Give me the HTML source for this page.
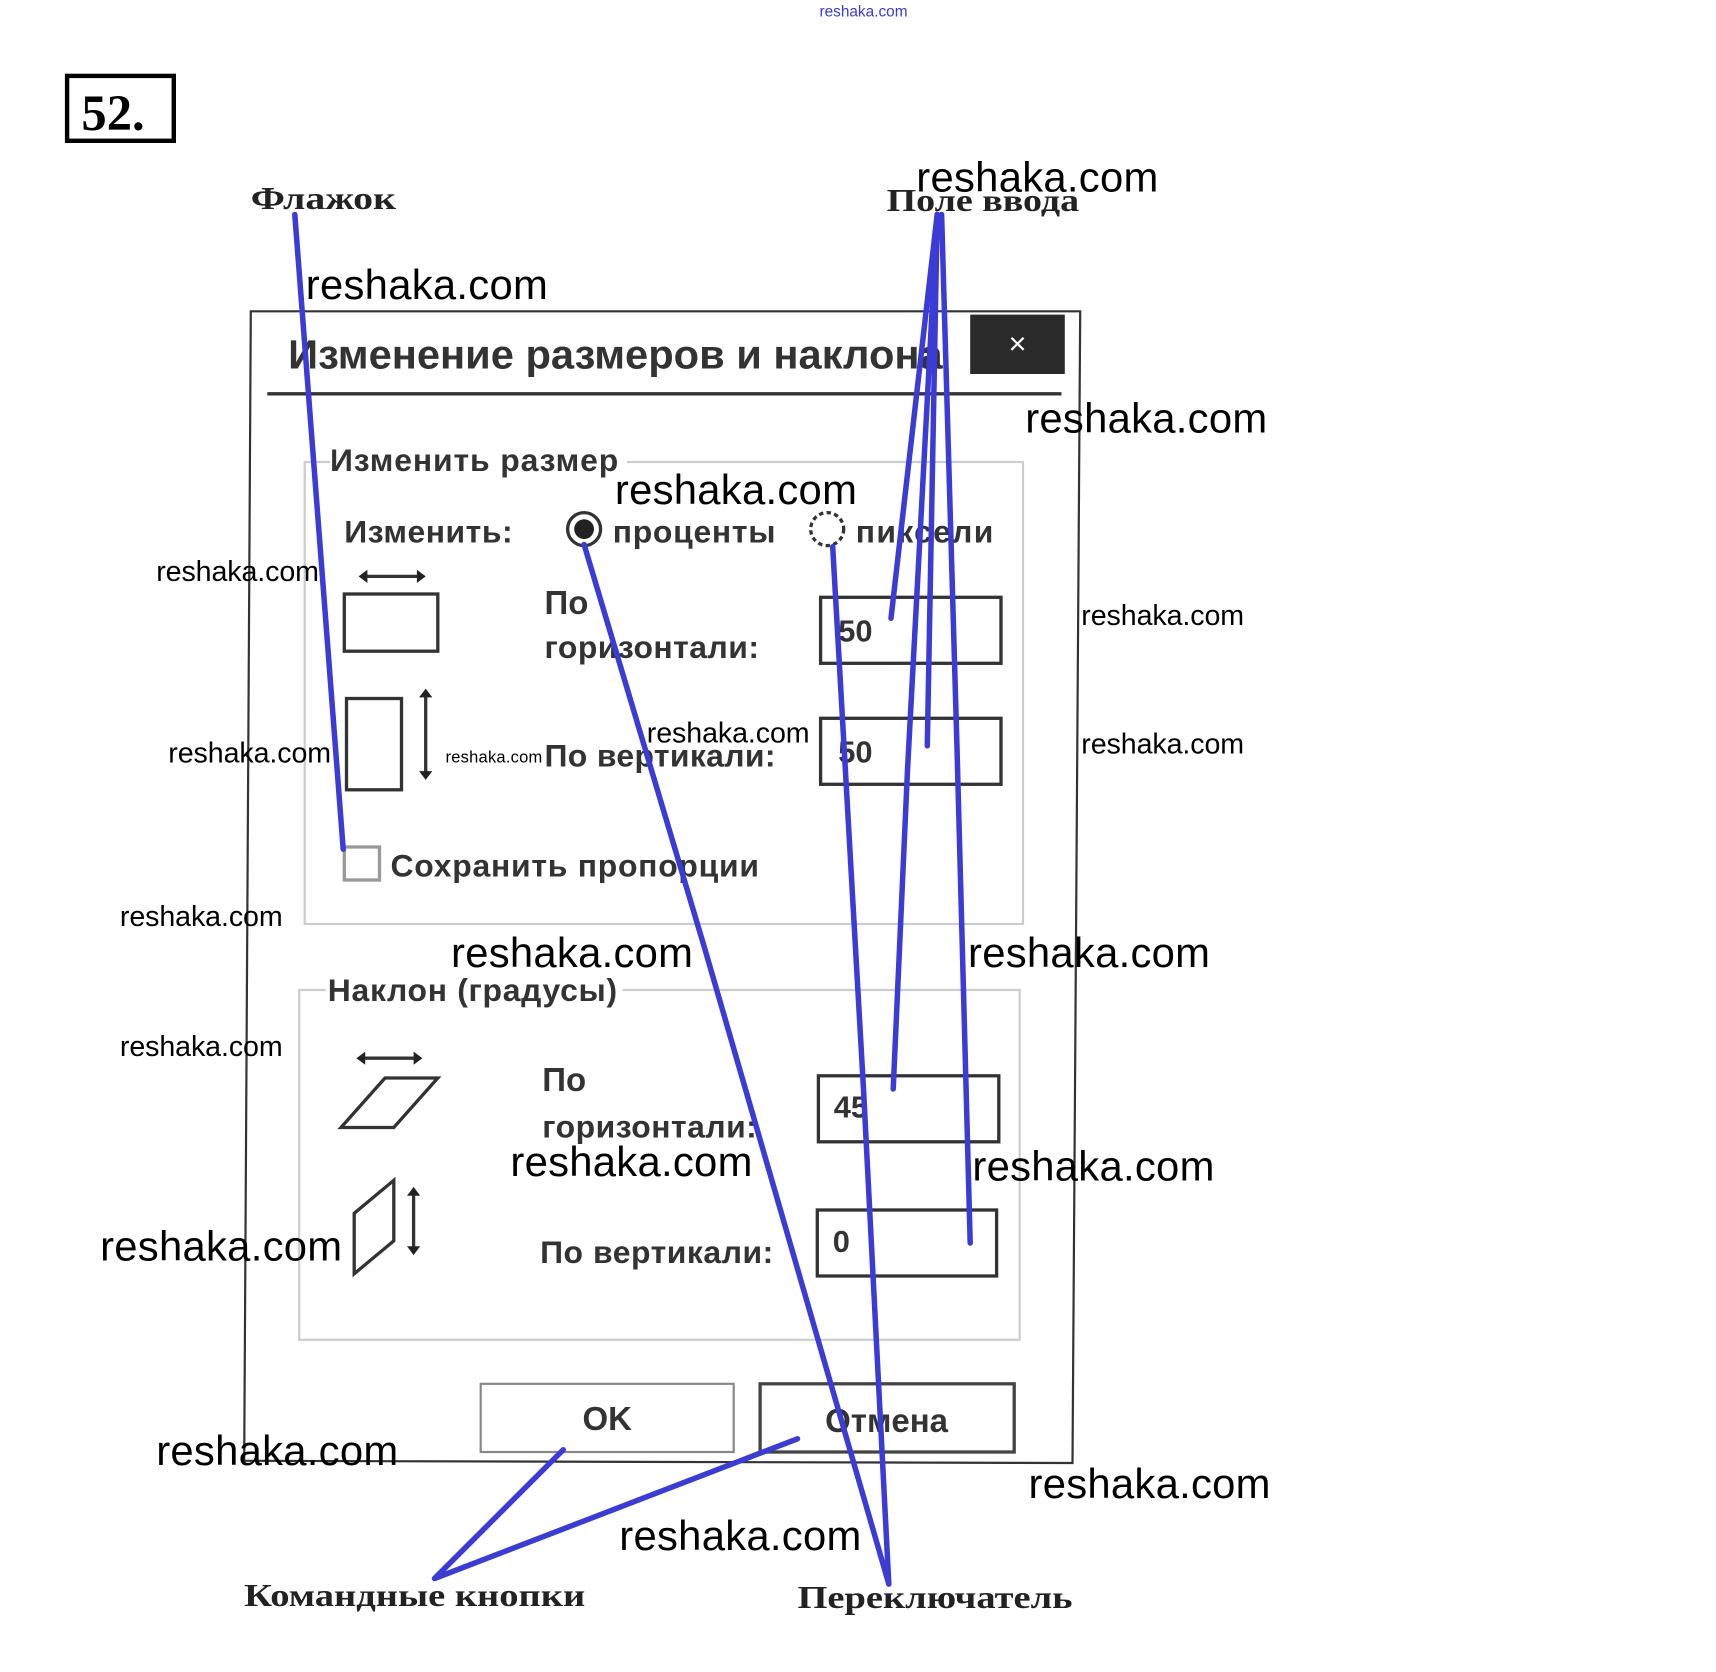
<!DOCTYPE html>
<html><head><meta charset="utf-8"><style>html,body{margin:0;padding:0;background:#fff}svg{display:block}</style></head>
<body>
<svg width="1716" height="1672" viewBox="0 0 1560 1520" xmlns="http://www.w3.org/2000/svg">
<rect width="1560" height="1520" fill="#fff"/>
<text x="785" y="15" font-family="Liberation Sans, sans-serif" font-size="14" fill="#3a3ad8" text-anchor="middle">reshaka.com</text>
<rect x="61" y="69" width="97" height="59" fill="none" stroke="#000" stroke-width="4"/>
<text x="74" y="118" font-family="Liberation Serif, serif" font-weight="bold" font-size="46">52.</text>
<g font-family="Liberation Serif, 'Noto Serif CJK SC', serif" font-size="29" fill="#222" font-weight="bold">
<text x="228" y="190" textLength="132" lengthAdjust="spacingAndGlyphs">Флажок</text>
<text x="806" y="192" textLength="175" lengthAdjust="spacingAndGlyphs">Поле ввода</text>
<text x="222" y="1460" textLength="310" lengthAdjust="spacingAndGlyphs">Командные кнопки</text>
<text x="725" y="1462" textLength="250" lengthAdjust="spacingAndGlyphs">Переключатель</text>
</g>
<g fill="none" stroke="#333">
<path d="M228,283 L982,283 L975,1330 L222,1328 Z" stroke-width="2"/>
<line x1="243" y1="358" x2="965" y2="358" stroke-width="3"/>
<rect x="277" y="420" width="653" height="420" stroke="#ccc" stroke-width="2"/>
<rect x="272" y="900" width="655" height="318" stroke="#ccc" stroke-width="2"/>
</g>
<rect x="882" y="286" width="86" height="54" fill="#2a2a2a"/>
<text x="925" y="322" font-family="Liberation Sans, sans-serif" font-size="28" fill="#fff" text-anchor="middle">×</text>
<g font-family="Liberation Sans, 'Noto Sans CJK SC', sans-serif" font-weight="bold" fill="#333">
<text x="262" y="335" font-size="37" textLength="595" lengthAdjust="spacingAndGlyphs">Изменение размеров и наклона</text>
<rect x="300" y="405" width="270" height="30" fill="#fff"/>
<text x="300" y="428" font-size="29" textLength="262">Изменить размер</text>
<text x="313" y="493" font-size="29" textLength="153">Изменить:</text>
<text x="557" y="493" font-size="29" textLength="148">проценты</text>
<text x="778" y="493" font-size="29" textLength="125">пиксели</text>
<text x="495" y="558" font-size="30">По</text>
<text x="495" y="598" font-size="29" textLength="195">горизонтали:</text>
<text x="495" y="697" font-size="29" textLength="210">По вертикали:</text>
<text x="355" y="797" font-size="29" textLength="335">Сохранить пропорции</text>
<rect x="296" y="888" width="270" height="30" fill="#fff"/>
<text x="298" y="910" font-size="29" textLength="263">Наклон (градусы)</text>
<text x="493" y="992" font-size="30">По</text>
<text x="493" y="1034" font-size="29" textLength="195">горизонтали:</text>
<text x="491" y="1148" font-size="29" textLength="212">По вертикали:</text>
<text x="762" y="583" font-size="28">50</text>
<text x="762" y="693" font-size="28">50</text>
<text x="758" y="1016" font-size="28">45</text>
<text x="757" y="1138" font-size="28">0</text>
<text x="552" y="1300" font-size="30" text-anchor="middle">OK</text>
<text x="806" y="1302" font-size="30" text-anchor="middle">Отмена</text>
</g>
<g fill="none" stroke="#333" stroke-width="3">
<circle cx="531" cy="481" r="15"/>
<circle cx="752" cy="481" r="15" stroke-dasharray="4 3"/>
<rect x="313" y="540" width="85" height="52"/>
<rect x="315" y="635" width="50" height="83"/>
<rect x="746" y="543" width="164" height="60"/>
<rect x="746" y="653" width="164" height="60"/>
<rect x="744" y="978" width="164" height="60"/>
<rect x="743" y="1100" width="163" height="60"/>
<rect x="313" y="770" width="32" height="30" stroke="#999"/>
<path d="M350,980 L398,980 L358,1025 L310,1025 Z"/>
<path d="M358,1073 L358,1128 L322,1158 L322,1103 Z"/>
<line x1="332" y1="524" x2="381" y2="524"/>
<line x1="387" y1="632" x2="387" y2="703"/>
<line x1="330" y1="962" x2="378" y2="962"/>
<line x1="376" y1="1085" x2="376" y2="1135"/>
<rect x="437" y="1258" width="230" height="62" stroke="#888" stroke-width="2"/>
<rect x="691" y="1258" width="231" height="62" stroke="#444" stroke-width="3"/>
</g>
<circle cx="531" cy="481" r="9" fill="#222"/>
<g fill="#222">
<path d="M326,524 l8,-6 v12z M387,524 l-8,-6 v12z M387,626 l-6,8 h12z M387,709 l-6,-8 h12z M324,962 l8,-6 v12z M384,962 l-8,-6 v12z M376,1079 l-6,8 h12z M376,1141 l-6,-8 h12z"/>
</g>
<g fill="none" stroke="#3b3bd6" stroke-width="5" stroke-linecap="round" stroke-linejoin="round">
<polyline points="268,195 312,772"/>
<polyline points="852,195 810,562"/>
<polyline points="852,195 843,678"/>
<polyline points="852,195 825,700 812,990"/>
<polyline points="856,195 870,680 882,1130"/>
<polyline points="531,495 640,860 808,1440"/>
<polyline points="757,497 785,990 808,1440"/>
<polyline points="512,1318 395,1435 725,1308"/>
</g>
<g font-family="Liberation Sans, sans-serif" fill="#000">
<g font-size="38">
<text x="833" y="174" textLength="220">reshaka.com</text>
<text x="278" y="272" textLength="220">reshaka.com</text>
<text x="932" y="393" textLength="220">reshaka.com</text>
<text x="559" y="458" textLength="220">reshaka.com</text>
<text x="410" y="879" textLength="220">reshaka.com</text>
<text x="880" y="879" textLength="220">reshaka.com</text>
<text x="464" y="1069" textLength="220">reshaka.com</text>
<text x="884" y="1073" textLength="220">reshaka.com</text>
<text x="91" y="1146" textLength="220">reshaka.com</text>
<text x="142" y="1332" textLength="220">reshaka.com</text>
<text x="935" y="1362" textLength="220">reshaka.com</text>
<text x="563" y="1409" textLength="220">reshaka.com</text>
</g>
<g font-size="26">
<text x="142" y="528" textLength="148">reshaka.com</text>
<text x="983" y="568" textLength="148">reshaka.com</text>
<text x="153" y="693" textLength="148">reshaka.com</text>
<text x="588" y="675" textLength="148">reshaka.com</text>
<text x="983" y="685" textLength="148">reshaka.com</text>
<text x="109" y="842" textLength="148">reshaka.com</text>
<text x="109" y="960" textLength="148">reshaka.com</text>
</g>
<text x="405" y="693" font-size="15" textLength="88">reshaka.com</text>
</g>
</svg>
</body></html>
